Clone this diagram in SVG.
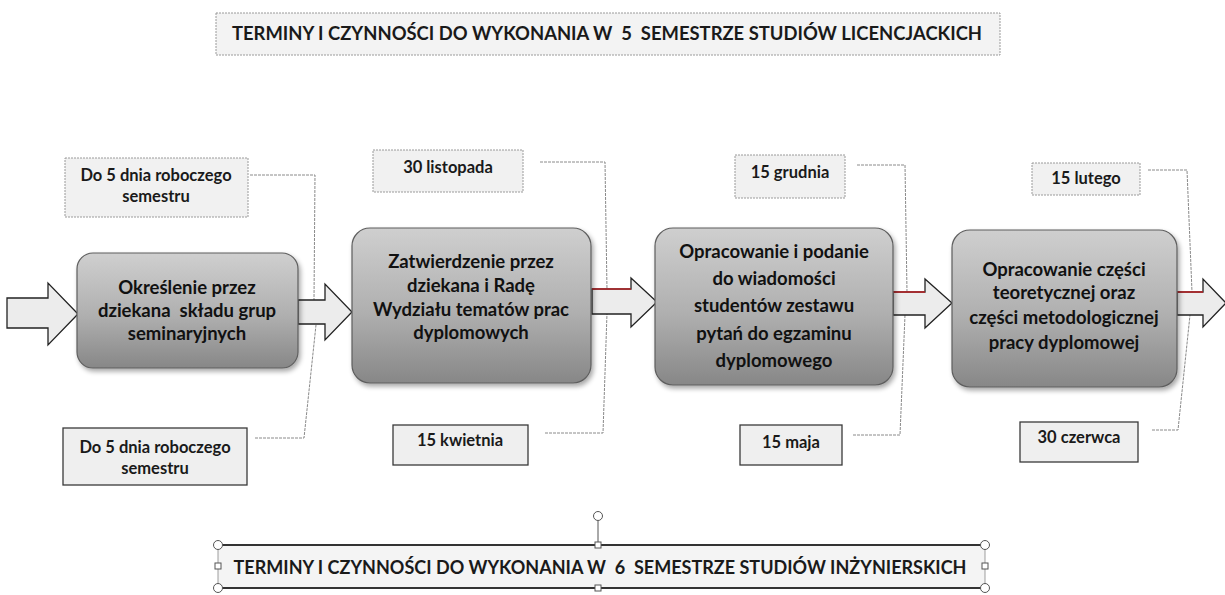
<svg xmlns="http://www.w3.org/2000/svg" width="1225" height="595" viewBox="0 0 1225 595">
<defs>
<linearGradient id="nodeGrad" x1="0" y1="0" x2="0" y2="1">
<stop offset="0" stop-color="#cfcfcf"/>
<stop offset="0.55" stop-color="#afafaf"/>
<stop offset="1" stop-color="#878787"/>
</linearGradient>
<filter id="shadow" x="-10%" y="-10%" width="125%" height="130%">
<feGaussianBlur in="SourceAlpha" stdDeviation="2.5"/>
<feOffset dx="2" dy="3" result="b"/>
<feComponentTransfer><feFuncA type="linear" slope="0.35"/></feComponentTransfer>
<feMerge><feMergeNode/><feMergeNode in="SourceGraphic"/></feMerge>
</filter>
</defs>
<style>
.node{fill:url(#nodeGrad);stroke:#5e5e5e;stroke-width:1.2;filter:url(#shadow)}
.ntxt{font-family:Lato,"Liberation Sans",sans-serif;font-weight:bold;font-size:18.5px;fill:#111;text-anchor:middle}
.ltxt{font-family:Lato,"Liberation Sans",sans-serif;font-weight:bold;font-size:16.5px;fill:#1a1a1a;text-anchor:middle}
.ttxt{font-family:Lato,"Liberation Sans",sans-serif;font-weight:bold;font-size:19px;fill:#1a1a1a;text-anchor:middle}
.lbtop{fill:#f1f1f1;stroke:#9a9a9a;stroke-width:1;stroke-dasharray:2 1}
.lbbot{fill:#efefef;stroke:#3a3a3a;stroke-width:1.3}
.arrow{fill:#ececec;stroke:#222;stroke-width:1.3;stroke-linejoin:miter}
.red{stroke:#b8262a;stroke-width:1.6;fill:none}
.conn{fill:none;stroke:#8a8a8a;stroke-width:1;stroke-dasharray:3 1}
.handle{fill:#fff;stroke:#555;stroke-width:1}
</style>
<rect width="1225" height="595" fill="#ffffff"/>

<g id="title-top">
<rect x="216" y="13" width="784" height="42" fill="#f3f3f3" stroke="#9a9a9a" stroke-width="1" stroke-dasharray="2 1"/>
<text class="ttxt" x="607" y="40" textLength="750" lengthAdjust="spacingAndGlyphs" xml:space="preserve">TERMINY I CZYNNOŚCI DO WYKONANIA W  5  SEMESTRZE STUDIÓW LICENCJACKICH</text>
</g>

<g id="connectors">
<polyline class="conn" points="250,175 315,175 314,300"/>
<polyline class="conn" points="255,438 304,438 316,325"/>
<polyline class="conn" points="540,162 605,162 607,290"/>
<polyline class="conn" points="545,433 603,433 607,313"/>
<polyline class="conn" points="857,165 905,165 907,292"/>
<polyline class="conn" points="853,435 900,435 905,315"/>
<polyline class="conn" points="1148,170 1187,170 1192,292"/>
<polyline class="conn" points="1152,430 1178,430 1190,315"/>
</g>

<g id="arrows">
<polygon class="arrow" points="7,298 48,298 48,283 78,314 48,345 48,328 7,328"/>
<polygon class="arrow" points="298,300 325,300 325,284 352,312 325,340 325,324 298,324"/>
<polygon class="arrow" points="592,289 631,289 631,278 657,302 631,327 631,314 592,314"/>
<line class="red" x1="592" y1="289" x2="631" y2="289"/>
<polygon class="arrow" points="893,292 925,292 925,279 952,303 925,328 925,315 893,315"/>
<line class="red" x1="893" y1="292" x2="925" y2="292"/>
<polygon class="arrow" points="1177,292 1203,292 1203,279 1226,303 1203,327 1203,315 1177,315"/>
<line class="red" x1="1177" y1="292" x2="1203" y2="292"/>
</g>

<g id="node1">
<rect class="node" x="77" y="253" width="221" height="115" rx="16"/>
<text class="ntxt" x="187" y="294">Określenie przez</text>
<text class="ntxt" x="187" y="317" xml:space="preserve">dziekana  składu grup</text>
<text class="ntxt" x="187" y="340">seminaryjnych</text>
</g>

<g id="node2">
<rect class="node" x="352" y="228" width="239" height="155" rx="18"/>
<text class="ntxt" x="471" y="268">Zatwierdzenie przez</text>
<text class="ntxt" x="471" y="292">dziekana i Radę</text>
<text class="ntxt" x="471" y="316">Wydziału tematów prac</text>
<text class="ntxt" x="471" y="339">dyplomowych</text>
</g>

<g id="node3">
<rect class="node" x="655" y="228" width="238" height="157" rx="18"/>
<text class="ntxt" x="774" y="258">Opracowanie i podanie</text>
<text class="ntxt" x="774" y="285">do wiadomości</text>
<text class="ntxt" x="774" y="312">studentów zestawu</text>
<text class="ntxt" x="774" y="340">pytań do egzaminu</text>
<text class="ntxt" x="774" y="367">dyplomowego</text>
</g>

<g id="node4">
<rect class="node" x="952" y="230" width="225" height="157" rx="18"/>
<text class="ntxt" x="1064" y="276">Opracowanie części</text>
<text class="ntxt" x="1064" y="299">teoretycznej oraz</text>
<text class="ntxt" x="1064" y="324">części metodologicznej</text>
<text class="ntxt" x="1064" y="349">pracy dyplomowej</text>
</g>

<g id="label-top-1">
<rect class="lbtop" x="65" y="158" width="183" height="59"/>
<text class="ltxt" x="156" y="181">Do 5 dnia roboczego</text>
<text class="ltxt" x="156" y="202">semestru</text>
</g>
<g id="label-bot-1">
<rect class="lbbot" x="63" y="428" width="184" height="57"/>
<text class="ltxt" x="155" y="453">Do 5 dnia roboczego</text>
<text class="ltxt" x="155" y="474">semestru</text>
</g>

<g id="label-top-2">
<rect class="lbtop" x="373" y="150" width="150" height="42"/>
<text class="ltxt" x="448" y="173">30 listopada</text>
</g>
<g id="label-bot-2">
<rect class="lbbot" x="393" y="425" width="135" height="40"/>
<text class="ltxt" x="460" y="446">15 kwietnia</text>
</g>

<g id="label-top-3">
<rect class="lbtop" x="735" y="155" width="110" height="43"/>
<text class="ltxt" x="790" y="178">15 grudnia</text>
</g>
<g id="label-bot-3">
<rect class="lbbot" x="740" y="425" width="102" height="40"/>
<text class="ltxt" x="791" y="448">15 maja</text>
</g>

<g id="label-top-4">
<rect class="lbtop" x="1032" y="163" width="108" height="32"/>
<text class="ltxt" x="1086" y="184">15 lutego</text>
</g>
<g id="label-bot-4">
<rect class="lbbot" x="1020" y="422" width="118" height="40"/>
<text class="ltxt" x="1079" y="443">30 czerwca</text>
</g>

<g id="title-bottom">
<rect x="218" y="545" width="767" height="43" fill="#f4f4f4" stroke="#888" stroke-width="0.8"/>
<line x1="218" y1="545" x2="985" y2="545" stroke="#333" stroke-width="1.8"/>
<line x1="218" y1="588" x2="985" y2="588" stroke="#333" stroke-width="1.8"/>
<line x1="598" y1="521" x2="598" y2="545" stroke="#555" stroke-width="1"/>
<circle class="handle" cx="598" cy="516" r="4.5"/>
<circle class="handle" cx="218" cy="545" r="4.5"/>
<circle class="handle" cx="985" cy="545" r="4.5"/>
<circle class="handle" cx="218" cy="588" r="4.5"/>
<circle class="handle" cx="985" cy="588" r="4.5"/>
<rect class="handle" x="595" y="542" width="6" height="6"/>
<rect class="handle" x="595" y="585" width="6" height="6"/>
<rect class="handle" x="215" y="563" width="6" height="6"/>
<rect class="handle" x="982" y="563" width="6" height="6"/>
<text class="ttxt" x="600" y="574" textLength="733" lengthAdjust="spacingAndGlyphs" xml:space="preserve">TERMINY I CZYNNOŚCI DO WYKONANIA W  6  SEMESTRZE STUDIÓW INŻYNIERSKICH</text>
</g>
</svg>
